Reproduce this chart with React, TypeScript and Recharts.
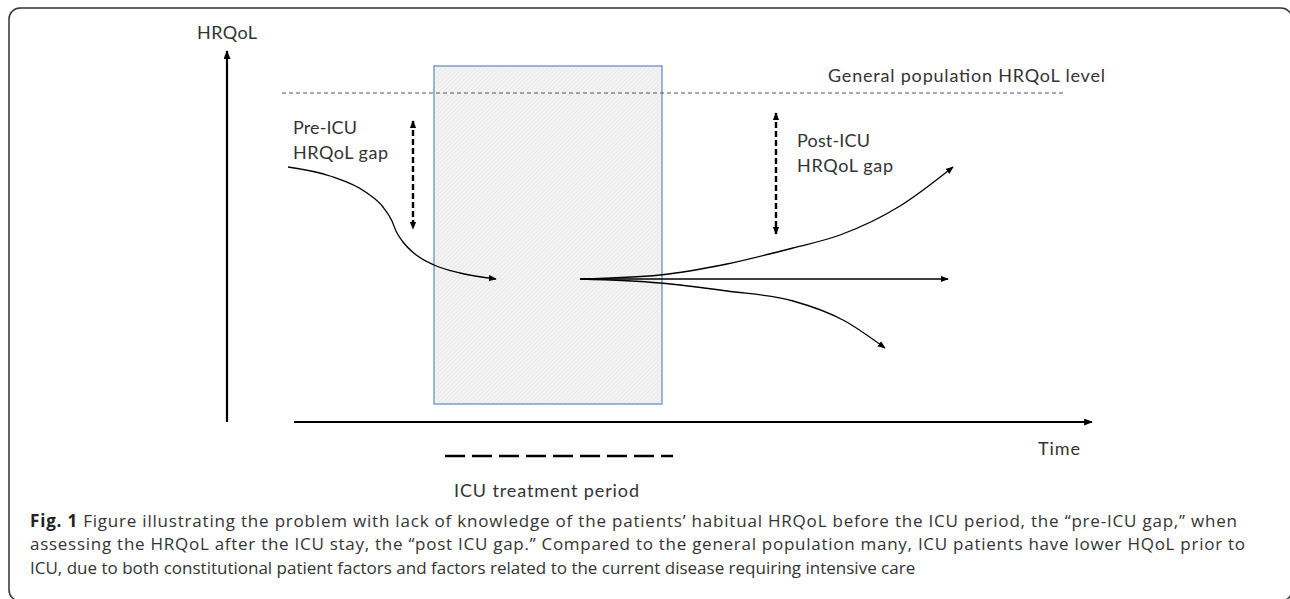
import React from 'react'
import { ComposedChart, Line, XAxis, YAxis, ReferenceArea } from 'recharts'

const W = 1290
const H = 599

// time runs left to right, HRQoL is drawn top = high (axis reversed)
const hrqolAxis = [{ t: 227, q: 422 }, { t: 227, q: 51 }]
const timeAxis = [{ t: 294, q: 422 }, { t: 1092, q: 422 }]
const populationLevel = [{ t: 282, q: 93 }, { t: 1066, q: 93 }]
const icuStay = { start: 434, end: 662, top: 66, bottom: 404 }
const icuPeriodMarker = [{ t: 445, q: 456 }, { t: 673, q: 456 }]
const preIcuGap = [{ t: 413, q: 121 }, { t: 413, q: 229 }]
const postIcuGap = [{ t: 776, q: 113 }, { t: 776, q: 234 }]

const preIcuCourse = [
  { t: 288, q: 167 },
  { t: 330, q: 176 },
  { t: 367, q: 193 },
  { t: 383, q: 207 },
  { t: 392, q: 221 },
  { t: 396, q: 231 },
  { t: 403, q: 242 },
  { t: 415, q: 254 },
  { t: 434, q: 265 },
  { t: 460, q: 273 },
  { t: 496, q: 279 },
]
const recoveryCourse = [
  { t: 580, q: 279 },
  { t: 660, q: 275 },
  { t: 727, q: 264 },
  { t: 793, q: 248 },
  { t: 840, q: 235 },
  { t: 900, q: 206 },
  { t: 953, q: 167 },
]
const stableCourse = [{ t: 580, q: 279 }, { t: 948, q: 279 }]
const declineCourse = [
  { t: 580, q: 279 },
  { t: 660, q: 283 },
  { t: 727, q: 291 },
  { t: 793, q: 301 },
  { t: 843, q: 320 },
  { t: 885, q: 348 },
]

const labels = [
  { x: 197, y: 39, text: 'HRQoL', w: 60 },
  { x: 293, y: 134, text: 'Pre-ICU', w: 64 },
  { x: 293, y: 159, text: 'HRQoL gap', w: 95 },
  { x: 797, y: 147, text: 'Post-ICU', w: 73 },
  { x: 797, y: 172, text: 'HRQoL gap', w: 96 },
  { x: 828, y: 82, text: 'General population HRQoL level', w: 277 },
  { x: 1038, y: 455, text: 'Time', w: 42 },
  { x: 454, y: 497, text: 'ICU treatment period', w: 185 },
]

const captionLines = [
  'Figure illustrating the problem with lack of knowledge of the patients\u2019 habitual HRQoL before the ICU period, the \u201cpre-ICU gap,\u201d when',
  'assessing the HRQoL after the ICU stay, the \u201cpost ICU gap.\u201d Compared to the general population many, ICU patients have lower HQoL prior to',
  'ICU, due to both constitutional patient factors and factors related to the current disease requiring intensive care',
]

const labelFont = 'Lato, "Open Sans", sans-serif'
const captionFont = '"Open Sans", "Noto Sans", sans-serif'

export default function App() {
  return (
    <div style={{ position: 'absolute', left: 0, top: 0, width: W, height: H, background: '#fff', overflow: 'hidden' }}>
      <ComposedChart width={W} height={H} margin={{ top: 0, right: 0, bottom: 0, left: 0 }}>
        <defs>
          <marker id="arrow" viewBox="0 0 10 8" refX="9" refY="4" markerWidth="9" markerHeight="7" markerUnits="userSpaceOnUse" orient="auto-start-reverse">
            <path d="M0,0 L10,4 L0,8 z" fill="#000" />
          </marker>
          <marker id="arrowSmall" viewBox="0 0 10 8" refX="9" refY="4" markerWidth="8" markerHeight="7" markerUnits="userSpaceOnUse" orient="auto-start-reverse">
            <path d="M0,0 L10,4 L0,8 z" fill="#000" />
          </marker>
          <pattern id="hatch" width="3" height="3" patternUnits="userSpaceOnUse" patternTransform="rotate(45)">
            <rect width="3" height="3" fill="#f4f4f4" />
            <line x1="0" y1="0" x2="0" y2="3" stroke="#dedede" strokeWidth="1" />
          </pattern>
        </defs>
        <rect x={9} y={8} width={1283} height={593} rx={11} fill="none" stroke="#333" strokeWidth={1.5} />
        <XAxis type="number" dataKey="t" domain={[0, W]} hide allowDataOverflow />
        <YAxis type="number" dataKey="q" domain={[0, H]} reversed hide allowDataOverflow />
        <ReferenceArea
          x1={icuStay.start}
          x2={icuStay.end}
          y1={icuStay.top}
          y2={icuStay.bottom}
          fill="url(#hatch)"
          fillOpacity={1}
          stroke="#7f9fc8"
          strokeWidth={1.5}
        />
        <Line data={populationLevel} dataKey="q" type="linear" stroke="#555" strokeWidth={1.2} strokeDasharray="4 3" dot={false} activeDot={false} isAnimationActive={false} />
        <Line data={hrqolAxis} dataKey="q" type="linear" stroke="#000" strokeWidth={2.2} dot={false} activeDot={false} markerEnd="url(#arrow)" isAnimationActive={false} />
        <Line data={timeAxis} dataKey="q" type="linear" stroke="#000" strokeWidth={2.2} dot={false} activeDot={false} markerEnd="url(#arrow)" isAnimationActive={false} />
        <Line data={icuPeriodMarker} dataKey="q" type="linear" stroke="#000" strokeWidth={2.6} strokeDasharray="20 7" dot={false} activeDot={false} isAnimationActive={false} />
        <Line data={preIcuGap} dataKey="q" type="linear" stroke="#000" strokeWidth={2.4} strokeDasharray="6 3" dot={false} activeDot={false} markerStart="url(#arrowSmall)" markerEnd="url(#arrowSmall)" isAnimationActive={false} />
        <Line data={postIcuGap} dataKey="q" type="linear" stroke="#000" strokeWidth={2.4} strokeDasharray="6 3" dot={false} activeDot={false} markerStart="url(#arrowSmall)" markerEnd="url(#arrowSmall)" isAnimationActive={false} />
        <Line data={preIcuCourse} dataKey="q" type="monotone" stroke="#000" strokeWidth={1.3} dot={false} activeDot={false} markerEnd="url(#arrowSmall)" isAnimationActive={false} />
        <Line data={recoveryCourse} dataKey="q" type="monotone" stroke="#000" strokeWidth={1.3} dot={false} activeDot={false} markerEnd="url(#arrowSmall)" isAnimationActive={false} />
        <Line data={stableCourse} dataKey="q" type="linear" stroke="#000" strokeWidth={1.3} dot={false} activeDot={false} markerEnd="url(#arrowSmall)" isAnimationActive={false} />
        <Line data={declineCourse} dataKey="q" type="monotone" stroke="#000" strokeWidth={1.3} dot={false} activeDot={false} markerEnd="url(#arrowSmall)" isAnimationActive={false} />
        {labels.map((l) => (
          <text key={l.text + l.x} x={l.x} y={l.y} fontFamily={labelFont} fontSize={18} fill="#333" textLength={l.w} lengthAdjust="spacing">
            {l.text}
          </text>
        ))}
        <text x={30} y={527} fontFamily={captionFont} fontSize={17} fill="#333" textLength={1207} lengthAdjust="spacing">
          <tspan fontWeight="bold" fill="#222">Fig. 1</tspan>
          <tspan> {captionLines[0]}</tspan>
        </text>
        <text x={30} y={550.3} fontFamily={captionFont} fontSize={17} fill="#333" textLength={1215} lengthAdjust="spacing">
          {captionLines[1]}
        </text>
        <text x={30} y={573.6} fontFamily={captionFont} fontSize={17} fill="#333">
          {captionLines[2]}
        </text>
      </ComposedChart>
    </div>
  )
}
